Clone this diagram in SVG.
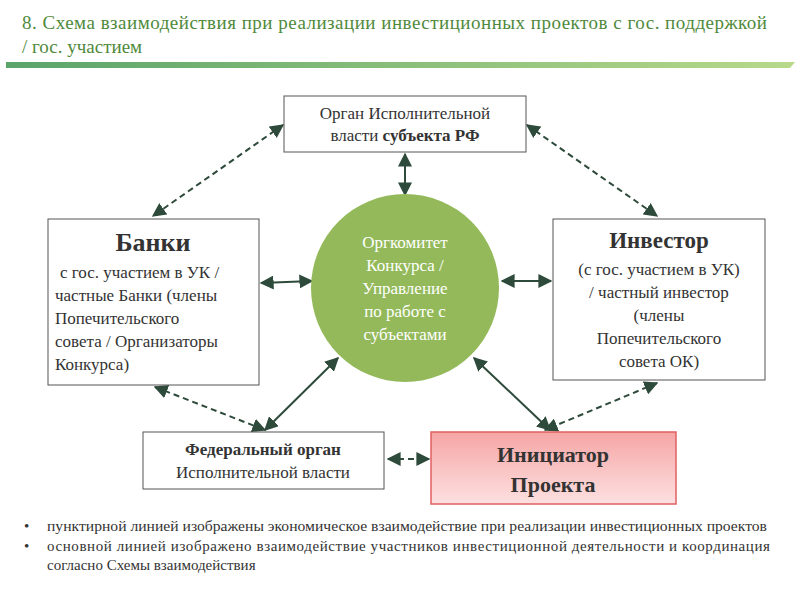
<svg xmlns="http://www.w3.org/2000/svg" width="800" height="600" viewBox="0 0 800 600" font-family="'Liberation Serif','DejaVu Serif',serif">
<defs>
<linearGradient id="bar" x1="0" x2="1"><stop offset="0" stop-color="#5aa46a"/><stop offset="1" stop-color="#b8d98a"/></linearGradient>
<linearGradient id="pink" x1="0" y1="0" x2="0" y2="1"><stop offset="0" stop-color="#f6a5a5"/><stop offset="1" stop-color="#fde0e0"/></linearGradient>
<marker id="a" viewBox="0 0 10 10" refX="9" refY="5" markerWidth="7" markerHeight="7" orient="auto-start-reverse"><path d="M0,0 L10,5 L0,10 z" fill="#2d4a3a"/></marker>
<style>
text{font-family:'Liberation Serif','DejaVu Serif',serif;fill:#333}
.box{fill:#fff;stroke:#555;stroke-width:1}
.s{stroke:#2d4a3a;stroke-width:2;fill:none;marker-start:url(#a);marker-end:url(#a)}
.d{stroke:#2d4a3a;stroke-width:2;fill:none;stroke-dasharray:6 4;marker-start:url(#a);marker-end:url(#a)}
.c{text-anchor:middle}
</style>
</defs>
<text x="22" y="29" font-size="19" style="fill:#4f8a3c" textLength="745">8. Схема взаимодействия при реализации инвестиционных проектов с гос. поддержкой</text>
<text x="22" y="53" font-size="19" style="fill:#4f8a3c">/ гос. участием</text>
<polygon points="6,62 795,62 790,68 6,68" fill="url(#bar)"/>
<g id="connectors">
<line class="d" x1="283" y1="125" x2="153" y2="216"/>
<line class="d" x1="527" y1="125" x2="657" y2="216"/>
<line class="d" x1="155" y1="387" x2="265" y2="430"/>
<line class="d" x1="657" y1="383" x2="545" y2="430"/>
<line class="d" x1="388" y1="459" x2="429" y2="459"/>
<line class="s" x1="405" y1="154" x2="405" y2="195"/>
<line class="s" x1="261" y1="283" x2="312" y2="281"/>
<line class="s" x1="502" y1="281" x2="551" y2="281"/>
<line class="s" x1="338" y1="358" x2="265" y2="430"/>
<line class="s" x1="474" y1="358" x2="550" y2="430"/>
</g>
<g id="organ" font-size="17"><rect class="box" x="284" y="96" width="242" height="56"/>
<text class="c" x="405" y="119">Орган Исполнительной</text>
<text class="c" x="405" y="141">власти <tspan font-weight="bold">субъекта РФ</tspan></text></g>
<g id="orgkom" font-size="17"><circle cx="405" cy="288" r="94" fill="#93b95a"/>
<text class="c" x="405" y="248" style="fill:#fff">Оргкомитет</text>
<text class="c" x="405" y="271" style="fill:#fff">Конкурса /</text>
<text class="c" x="405" y="294" style="fill:#fff">Управление</text>
<text class="c" x="405" y="317" style="fill:#fff">по работе с</text>
<text class="c" x="405" y="340" style="fill:#fff">субъектами</text></g>
<g id="banki" font-size="17"><rect class="box" x="48" y="219" width="211" height="166"/>
<text class="c" x="153" y="251" font-size="26" font-weight="bold">Банки</text>
<text x="60" y="278"> с гос. участием в УК /</text>
<text x="55" y="301">частные Банки (члены</text>
<text x="55" y="324">Попечительского</text>
<text x="55" y="347">совета / Организаторы</text>
<text x="55" y="370">Конкурса)</text></g>
<g id="investor" font-size="17"><rect class="box" x="553" y="219" width="212" height="161"/>
<text class="c" x="659" y="248" font-size="23" font-weight="bold">Инвестор</text>
<text class="c" x="659" y="275">(с гос. участием в УК)</text>
<text class="c" x="659" y="298">/ частный инвестор</text>
<text class="c" x="659" y="321">(члены</text>
<text class="c" x="659" y="344">Попечительского</text>
<text class="c" x="659" y="367">совета ОК)</text></g>
<g id="federal" font-size="17"><rect class="box" x="143" y="432" width="241" height="57"/>
<text class="c" x="263" y="455" font-weight="bold">Федеральный орган</text>
<text class="c" x="263" y="478">Исполнительной власти</text></g>
<g id="initiator"><rect x="431" y="432" width="245" height="72" fill="url(#pink)" stroke="#e06060" stroke-width="1.5"/>
<text class="c" x="553" y="462" font-size="22" font-weight="bold">Инициатор</text>
<text class="c" x="553" y="492" font-size="22" font-weight="bold">Проекта</text></g>
<g id="notes" font-size="15">
<text x="24" y="531">•</text>
<text x="47" y="531" textLength="720" lengthAdjust="spacingAndGlyphs">пунктирной линией изображены экономическое взаимодействие при реализации инвестиционных проектов</text>
<text x="24" y="551">•</text>
<text x="47" y="551" textLength="723">основной линией изображено взаимодействие участников инвестиционной деятельности и координация</text>
<text x="47" y="570">согласно Схемы взаимодействия</text>
</g>
</svg>
